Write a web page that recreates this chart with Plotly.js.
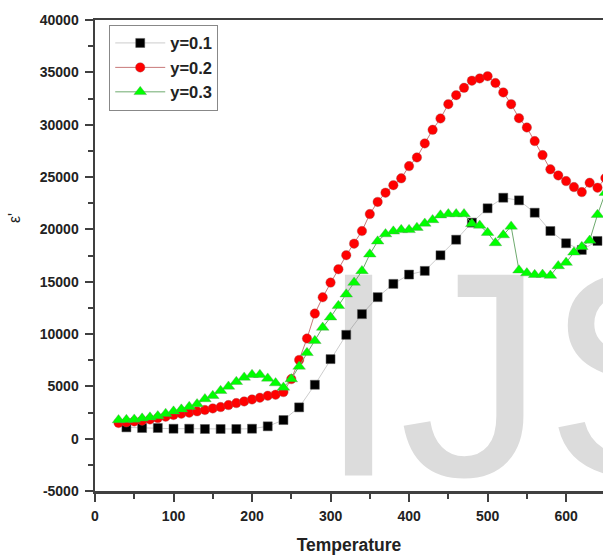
<!DOCTYPE html>
<html>
<head>
<meta charset="utf-8">
<script src="https://cdn.plot.ly/plotly-3.0.1.min.js"></script>
<style>html,body{margin:0;padding:0;background:#fff;}#chart{width:603px;height:557px;}</style>
</head>
<body>
<div id="chart"></div>
<script>
// Series y=0.1 (every 20 degrees)
const xBlack = [40,60,80,100,120,140,160,180,200,220,240,260,280,300,320,340,360,380,400,420,440,460,480,500,520,540,560,580,600,620,640];
const yBlack = [1080,1020,1020,950,950,925,925,925,950,1180,1780,2990,5150,7600,9920,11900,13520,14790,15680,16030,17520,19010,20640,22010,23020,22770,21590,19840,18670,18030,18890];

// Series y=0.2 and y=0.3 (every 10 degrees)
const xFine = [30,40,50,60,70,80,90,100,110,120,130,140,150,160,170,180,190,200,210,220,230,240,250,260,270,280,290,300,310,320,330,340,350,360,370,380,390,400,410,420,430,440,450,460,470,480,490,500,510,520,530,540,550,560,570,580,590,600,610,620,630,640,650];
const yRed = [1500,1560,1650,1720,1840,1970,2100,2260,2390,2480,2610,2740,2890,3020,3210,3400,3560,3750,3910,4100,4200,4450,5690,7520,9570,11950,13510,14910,16190,17530,18630,19840,21460,22620,23500,24220,24870,26040,26870,28210,29510,30590,31960,32820,33520,34200,34420,34630,33980,33080,31960,30620,29730,28430,27090,25730,25150,24610,24040,23560,24450,23980,24900];
const yGreen = [1780,1810,1840,1940,2040,2160,2390,2610,2800,3050,3310,3790,4100,4580,4990,5440,5850,6110,6110,5760,5310,4900,5690,6900,8200,9350,10620,11600,12690,13800,14910,16030,17620,18860,19550,19810,19950,19950,20160,20560,20900,21350,21470,21470,21470,20530,20370,19680,18700,19450,20280,16090,15820,15660,15680,15580,16500,16820,17800,18330,18930,21400,23500];

const seriesNames = ['y=0.1','y=0.2','y=0.3'];
const yTickVals = [-5000,0,5000,10000,15000,20000,25000,30000,35000,40000];
const yTickText = ['-5000','0','5000','10000','15000','20000','25000','30000','35000','40000'];
const watermarkText = 'IJS';
const yTitle = "ε'";

const FONT = 'Liberation Sans, Arial, sans-serif';

const traces = [
  {
    x: [284], y: [3450], mode: 'text', text: [watermarkText],
    textposition: 'middle right',
    textfont: {family: FONT, size: 292, color: '#dcdcdc'},
    showlegend: false, hoverinfo: 'skip', cliponaxis: true
  },
  {
    x: xBlack, y: yBlack, name: seriesNames[0], mode: 'lines+markers',
    line: {color: 'rgba(110,110,110,0.35)', width: 1},
    marker: {symbol: 'square', size: 9, color: '#000000', line: {color: '#555', width: 0.5}}
  },
  {
    x: xFine, y: yRed, name: seriesNames[1], mode: 'lines+markers',
    line: {color: 'rgb(200,120,120)', width: 1},
    marker: {symbol: 'circle', size: 9.5, color: '#ff0000', line: {color: 'rgba(150,90,90,0.7)', width: 0.5}}
  },
  {
    x: xFine, y: yGreen, name: seriesNames[2], mode: 'lines+markers',
    line: {color: 'rgb(110,170,110)', width: 1},
    marker: {symbol: 'triangle-up', size: 11, color: '#00ff00', line: {color: 'rgba(90,140,90,0.7)', width: 0.5}}
  }
];

const axisCommon = {
  showgrid: false, zeroline: false,
  showline: true, linecolor: '#404040', linewidth: 2.5,
  ticks: 'outside', ticklen: 8, tickwidth: 2, tickcolor: '#404040',
  tickformat: 'd',
  tickfont: {family: FONT, size: 14, color: '#222', weight: 'bold'}
};

const layout = {
  width: 603, height: 557,
  margin: {l: 95, r: 0, t: 20, b: 66},
  paper_bgcolor: '#ffffff', plot_bgcolor: '#ffffff',
  showlegend: true,
  legend: {
    x: 0.028, y: 0.99, xanchor: 'left', yanchor: 'top',
    bgcolor: '#ffffff', bordercolor: '#888', borderwidth: 1,
    font: {family: FONT, size: 16.5, color: '#222', weight: 'bold'},
    itemwidth: 50,
    tracegroupgap: 0
  },
  xaxis: Object.assign({}, axisCommon, {
    range: [0, 647], dtick: 100, tick0: 0, mirror: true,
    ticklabelstandoff: 3,
    minor: {dtick: 50, ticklen: 5, ticks: 'outside', tickcolor: '#404040', tickwidth: 2, showgrid: false},
    title: {text: 'Temperature', font: {family: FONT, size: 17.5, color: '#222', weight: 'bold'}, standoff: 16}
  }),
  yaxis: Object.assign({}, axisCommon, {
    range: [-5000, 40000], tickmode: 'array', tickvals: yTickVals, ticktext: yTickText,
    ticklabelstandoff: 3,
    minor: {dtick: 2500, tick0: 0, ticklen: 5, ticks: 'outside', tickcolor: '#404040', tickwidth: 2, showgrid: false}
  }),
  annotations: [{
    text: yTitle, xref: 'paper', yref: 'paper', x: -0.157, y: 0.58,
    xanchor: 'center', yanchor: 'middle', textangle: -90, showarrow: false,
    font: {family: FONT, size: 16, color: '#222'}
  }]
};

Plotly.newPlot('chart', traces, layout, {displayModeBar: false, staticPlot: true});
</script>
</body>
</html>
